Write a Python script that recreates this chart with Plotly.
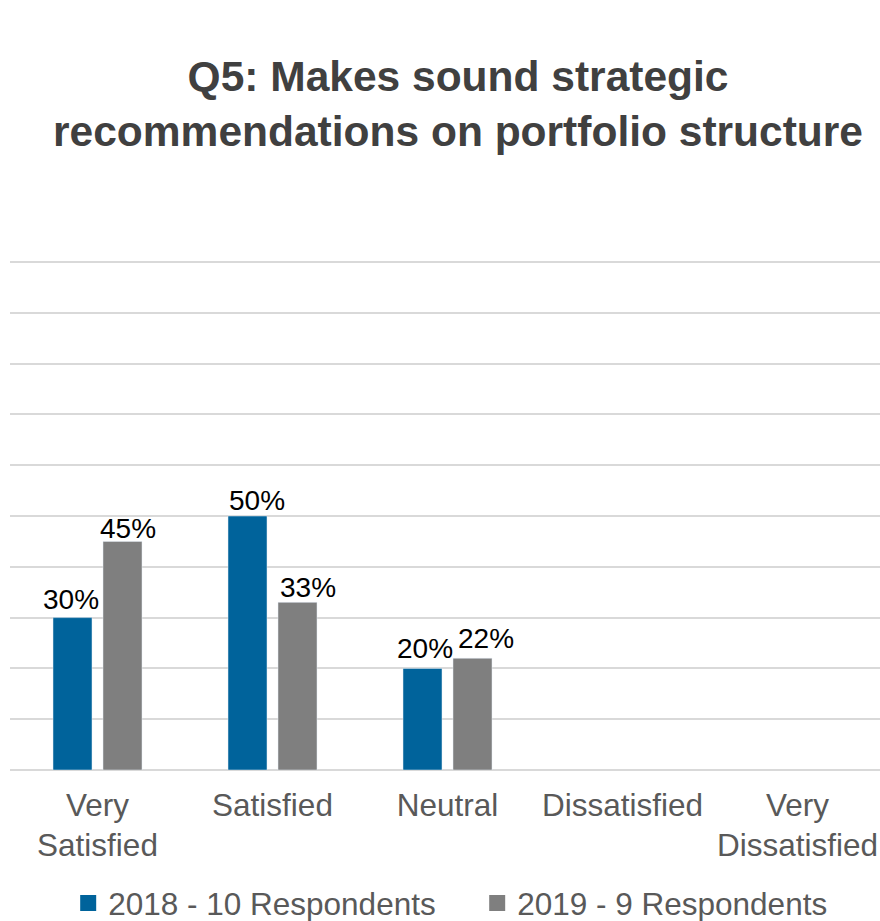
import plotly.graph_objects as go

categories = ["Very<br>Satisfied", "Satisfied", "Neutral", "Dissatisfied", "Very<br>Dissatisfied"]
series_2018 = [0.30, 0.50, 0.20, None, None]
series_2019 = [0.45, 0.33, 0.22, None, None]
labels_2018 = ["30%", "50%", "20%", "", ""]
labels_2019 = ["45%", "33%", "22%", "", ""]
name_2018 = "2018 - 10 Respondents"
name_2019 = "2019 - 9 Respondents"
color_2018 = "#00639B"
color_2019 = "#7F7F7F"

# small manual nudges of the data labels (pixels), as placed in the original
label_dx_2018 = [-1.5, 9, 2, 0, 0]
label_gap_2018 = [9, 6, 10, 0, 0]
label_dx_2019 = [5, 10.5, 13.5, 0, 0]
label_gap_2019 = [3, 5, 10, 0, 0]

FONT = "Liberation Sans, Arial, sans-serif"
BARGAP = 0.4286
BARGROUPGAP = 0.22

fig = go.Figure()
for vals, name, col in [(series_2018, name_2018, color_2018),
                        (series_2019, name_2019, color_2019)]:
    fig.add_trace(go.Bar(
        x=categories, y=vals, name=name,
        marker=dict(color=col),
        showlegend=False,
    ))

# data labels
offset = (1 - BARGAP) / 4  # bar centre offset from category centre (category units)
for sign, vals, labs, dxs, gaps in [(-1, series_2018, labels_2018, label_dx_2018, label_gap_2018),
                                    (1, series_2019, labels_2019, label_dx_2019, label_gap_2019)]:
    for i, (v, lab, dx, gap) in enumerate(zip(vals, labs, dxs, gaps)):
        if v is None or not lab:
            continue
        fig.add_annotation(
            x=i + sign * offset, y=v, xref="x", yref="y",
            text=lab, showarrow=False, yanchor="bottom", xanchor="center",
            xshift=dx, yshift=gap - 8,
            font=dict(family=FONT, size=28, color="#000000"),
        )

# legend entries (square swatches)
for name, col in [(name_2018, color_2018), (name_2019, color_2019)]:
    fig.add_trace(go.Scatter(
        x=[None], y=[None], mode="markers", name=name,
        marker=dict(symbol="square", size=16, color=col),
        showlegend=True,
    ))

W, H = 880, 921
fig.update_layout(
    width=W, height=H,
    paper_bgcolor="white", plot_bgcolor="white",
    margin=dict(l=10, r=0, t=260, b=151, autoexpand=False),
    barmode="group", bargap=BARGAP, bargroupgap=BARGROUPGAP,
    font=dict(family=FONT, color="#595959"),
    title=dict(
        text="Q5: Makes sound strategic<br>recommendations on portfolio structure",
        x=0.5205, xanchor="center", y=1 - 91 / H, yanchor="middle",
        font=dict(family=FONT, size=42.5, color="#404040", weight="bold"),
    ),
    showlegend=True,
    legend=dict(
        orientation="h", x=0.537, xanchor="center", y=-0.2608, yanchor="middle",
        font=dict(family=FONT, size=31.5, color="#595959"),
        itemwidth=30, traceorder="normal", entrywidth=364,
    ),
)
fig.update_xaxes(
    type="category", range=[-0.5, 4.4714], automargin=False,
    showgrid=False, showline=False, zeroline=False, ticks="",
    ticklabelstandoff=13,
    tickfont=dict(family=FONT, size=31.5, color="#595959"),
)
fig.update_yaxes(
    range=[0, 1.004], dtick=0.1, showticklabels=False, automargin=False,
    showgrid=True, gridcolor="#D9D9D9", gridwidth=2,
    zeroline=True, zerolinecolor="#D9D9D9", zerolinewidth=2,
    showline=False, ticks="",
)

fig.write_html(
    "out.html",
    config={"displayModeBar": False},
    post_script="document.body.style.margin='0';document.body.style.overflow='hidden';",
)
